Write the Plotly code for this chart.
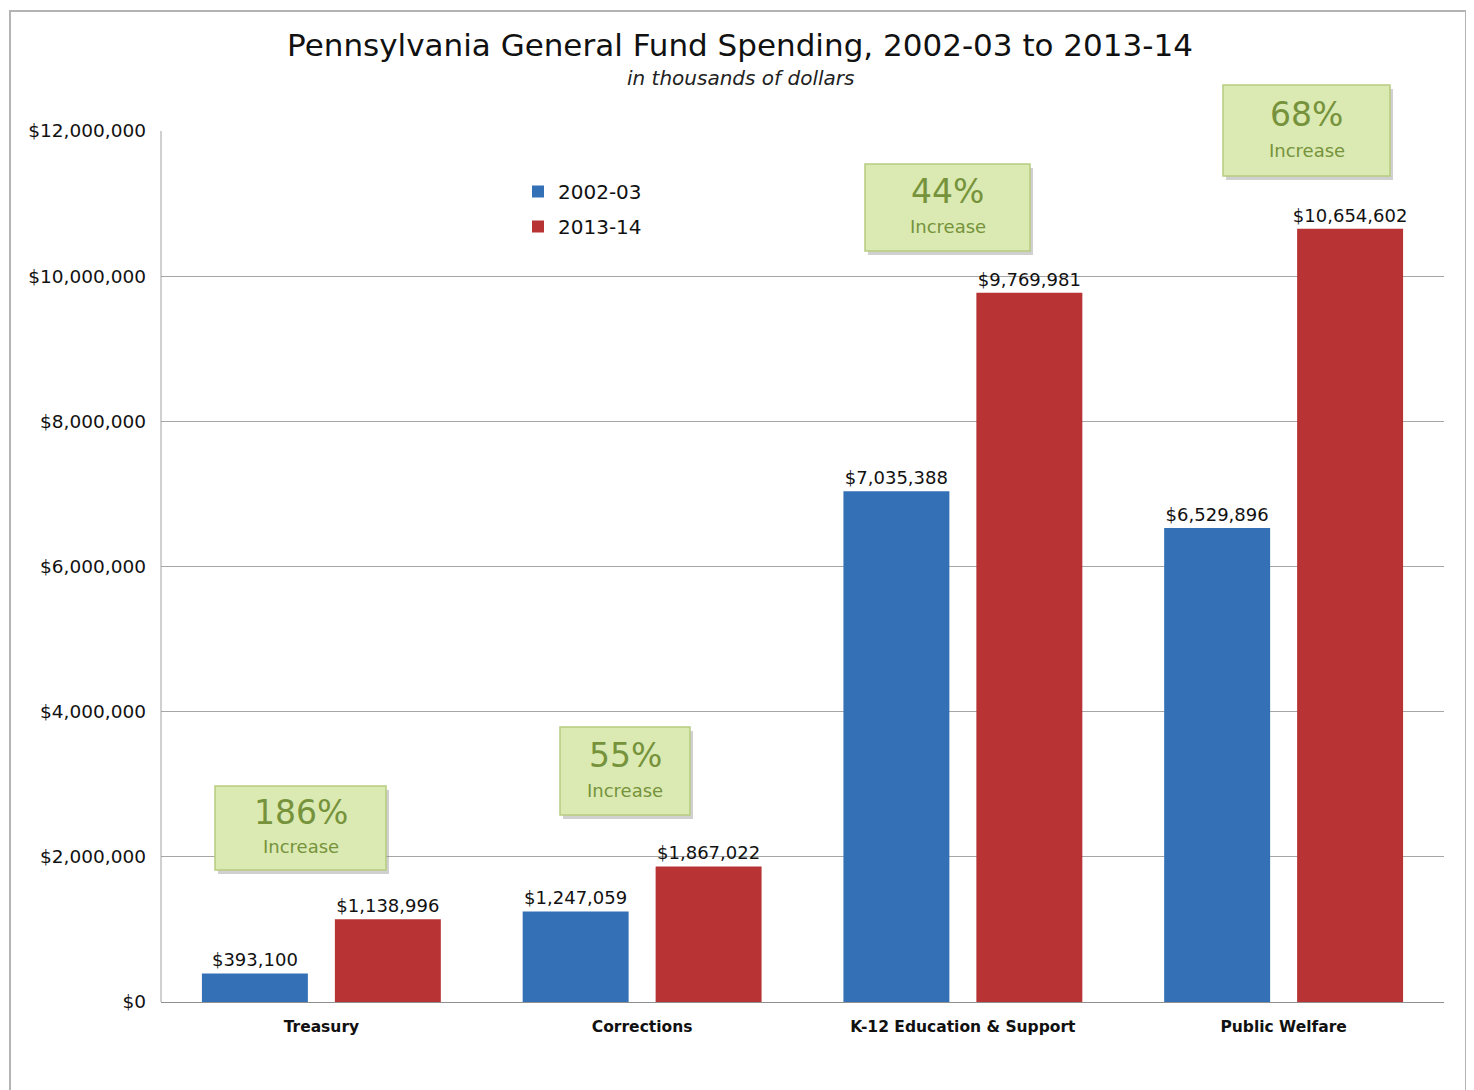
import plotly.graph_objects as go

categories = ["Treasury", "Corrections", "K-12 Education & Support", "Public Welfare"]
series_names = ["2002-03", "2013-14"]
values_2002 = [393100, 1247059, 7035388, 6529896]
values_2013 = [1138996, 1867022, 9769981, 10654602]
pct_increase = ["186%", "55%", "44%", "68%"]
y_ticks = [0, 2000000, 4000000, 6000000, 8000000, 10000000, 12000000]
y_tick_labels = [f"${v:,}" for v in y_ticks]

FONT = "DejaVu Sans"
OFF = 8  # page body margin

fig = go.Figure()
fig.add_trace(go.Bar(
    name=series_names[0], x=categories, y=values_2002, legendgroup="a",
    marker=dict(color="#3470b6", line=dict(width=0)),
    texttemplate="$%{y:,}", textposition="outside", constraintext="none",
    textfont=dict(size=18, color="#111", family=FONT), cliponaxis=False,
))
fig.add_trace(go.Bar(
    name=series_names[1], x=categories, y=values_2013, legendgroup="b",
    marker=dict(color="#b83333", line=dict(width=0)),
    texttemplate="$%{y:,}", textposition="outside", constraintext="none",
    textfont=dict(size=18, color="#111", family=FONT), cliponaxis=False,
))

# annotation boxes in page pixels: left, top, right, bottom
boxes = [
    (215, 786, 386, 870),
    (560, 727, 690, 815),
    (865, 164, 1030, 251),
    (1223, 85, 1390, 176),
]
annotations = []
shapes = []
W, H = 1283.0, 871.0
PX0, PY0 = 161.0, 1002.0


def px(x):
    return (x - PX0) / W


def py(y):
    return (PY0 - y) / H


for (l, t, r, b), pct in zip(boxes, pct_increase):
    shapes.append(dict(type="rect", xref="paper", yref="paper",
                       x0=px(l + 3), x1=px(r + 3), y0=py(b + 4), y1=py(t + 4),
                       fillcolor="rgba(120,120,120,0.35)", line=dict(width=0), layer="above"))
    shapes.append(dict(type="rect", xref="paper", yref="paper",
                       x0=px(l), x1=px(r), y0=py(b), y1=py(t),
                       fillcolor="#dbeab2", line=dict(color="#b7cc80", width=1.5), layer="above"))
    cx = px((l + r) / 2)
    h = b - t
    annotations.append(dict(
        xref="paper", yref="paper", x=cx, y=py(t + h * 0.32), xanchor="center", yanchor="middle",
        showarrow=False, text=pct, font=dict(family=FONT, size=33, color="#76933c"),
    ))
    annotations.append(dict(
        xref="paper", yref="paper", x=cx, y=py(t + h * 0.72), xanchor="center", yanchor="middle",
        showarrow=False, text="Increase", font=dict(family=FONT, size=18, color="#76933c"),
    ))

annotations.append(dict(
    xref="paper", yref="paper", x=px(740), y=py(78), xanchor="center", yanchor="middle",
    showarrow=False, text="<i>in thousands of dollars</i>",
    font=dict(family=FONT, size=20, color="#222"),
))

# outer border
shapes.append(dict(type="rect", xref="paper", yref="paper",
                   x0=px(10), x1=px(1466), y0=py(1100), y1=py(11),
                   line=dict(color="#b4b4b4", width=2), fillcolor="rgba(0,0,0,0)", layer="below"))
# left plot edge
shapes.append(dict(type="line", xref="paper", yref="paper", x0=0, x1=0, y0=0, y1=1,
                   line=dict(color="#a0a0a0", width=1)))

fig.update_layout(
    width=1474 - OFF, height=1090 - OFF,
    margin=dict(l=161 - OFF, r=30, t=131 - OFF, b=88),
    paper_bgcolor="white", plot_bgcolor="white",
    font=dict(family=FONT, color="#111"),
    title=dict(text="Pennsylvania General Fund Spending, 2002-03 to 2013-14",
               x=(740 - OFF) / (1474 - OFF), xanchor="center",
               y=1 - (45 - OFF) / (1090 - OFF), yanchor="middle",
               font=dict(size=31, color="#111", family=FONT)),
    barmode="group", bargap=0.171, bargroupgap=0.203,
    showlegend=True,
    legend=dict(x=px(518), y=py(172), xanchor="left", yanchor="top",
                bgcolor="rgba(0,0,0,0)", font=dict(size=20, color="#111", family=FONT),
                tracegroupgap=6, itemwidth=30),
    annotations=annotations, shapes=shapes,
    xaxis=dict(showline=True, linecolor="#909090", linewidth=1, ticks="",
               tickfont=dict(size=15.5, color="#111", family=FONT),
               ticklabelstandoff=10, tickprefix="<b>", ticksuffix="</b>"),
    yaxis=dict(range=[0, 12000000], tickvals=y_ticks, ticktext=y_tick_labels,
               showgrid=True, gridcolor="#a6a6a6", gridwidth=1, zeroline=False,
               tickfont=dict(size=18.5, color="#111", family=FONT),
               ticklabelstandoff=14, showline=False),
)

fig.write_html("out.html")
